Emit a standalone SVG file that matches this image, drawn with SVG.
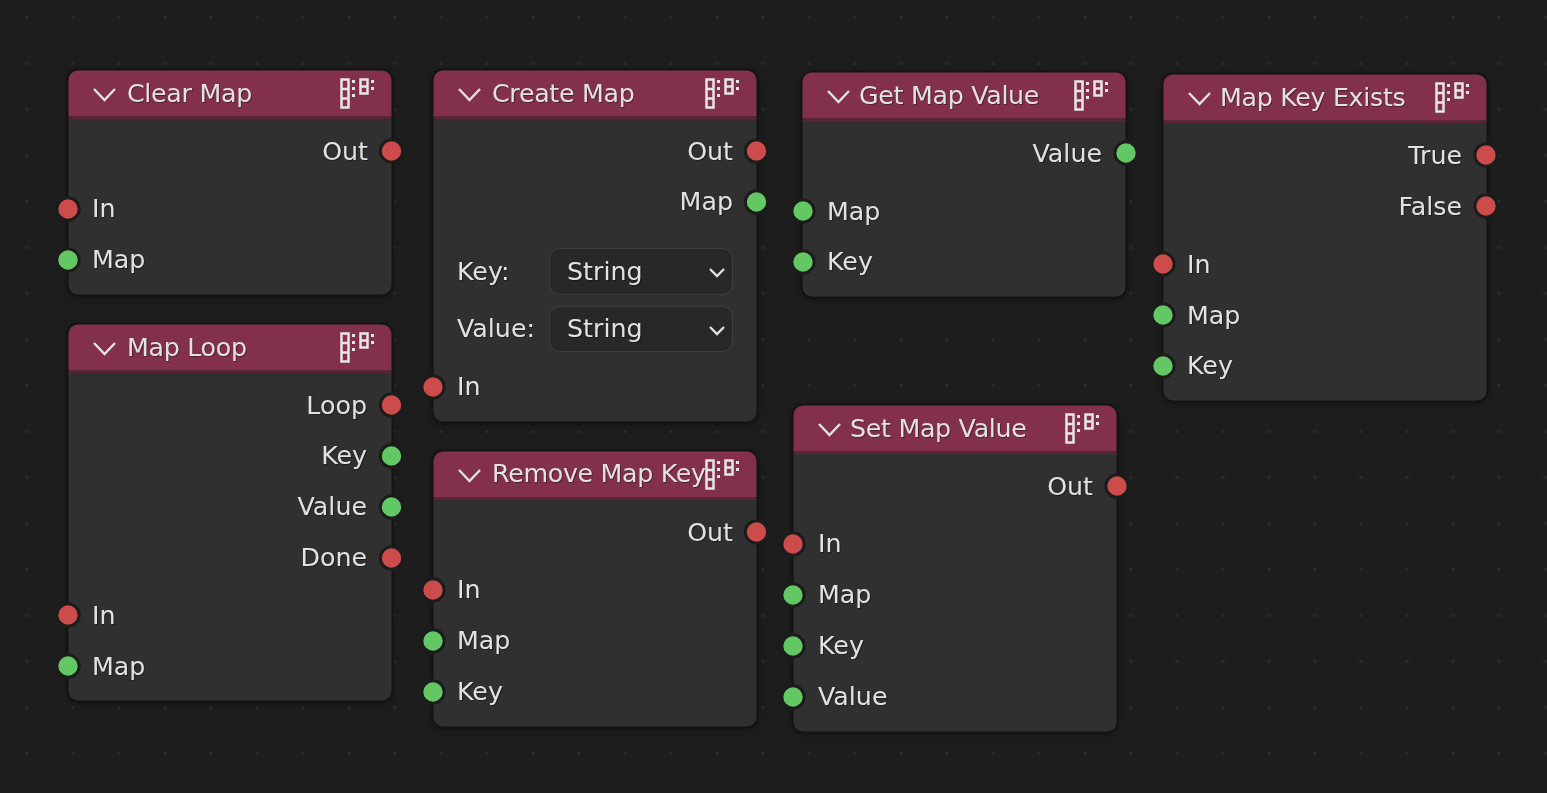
<svg xmlns="http://www.w3.org/2000/svg" width="1547" height="793" viewBox="0 0 1547 793">
<style>
text{font-family:"DejaVu Sans",sans-serif;font-size:25.300px;fill:#e2e2e2;filter:drop-shadow(1px 1px 0 rgba(0,0,0,.35))}
.t{letter-spacing:-.3px}
.e{text-anchor:end}
.body{fill:#303030}
.edge{fill:none;stroke:#141414;stroke-width:2}
.nd{filter:drop-shadow(0 2px 3px rgba(0,0,0,.45))}
.head{fill:#83314a}
.sep{fill:#5a2636}
.r{fill:#cc4b4b;stroke:#1c1c1c;stroke-width:3}
.g{fill:#63c763;stroke:#1c1c1c;stroke-width:3}
.chev{fill:none;stroke:#e2e2e2;stroke-width:2.400}
.ic{fill:none;stroke:#e6e6e6;stroke-width:2.500}
.icd{fill:#e6e6e6}
.dd{fill:#282828;stroke:#3c3c3c;stroke-width:1.200}
</style>
<defs>
<pattern id="grid" width="46" height="46" patternUnits="userSpaceOnUse" patternTransform="translate(3.500 -6)"><rect x="22" y="22" width="3" height="3" fill="#2a2a2a"/></pattern>
<g id="hdr"><path class="head" d="M0 46V10Q0 0 10 0H314Q324 0 324 10V46Z"/><rect class="sep" y="46" width="324" height="3"/><path class="chev" d="M26 19L36.500 30L47 19"/></g>
<g id="ico" transform="translate(272 8)"><rect class="ic" x="1.500" y="1.500" width="7" height="28"/><path class="ic" d="M1.500 11H8.500M1.500 20.500H8.500"/><rect class="ic" x="20.500" y="1.500" width="7" height="14"/><path class="ic" d="M20.500 8.500H27.500"/><rect class="icd" x="12" y="2" width="3" height="3"/><rect class="icd" x="12" y="9" width="3" height="3"/><rect class="icd" x="12" y="16" width="3" height="3"/><rect class="icd" x="31" y="2" width="3" height="3"/><rect class="icd" x="31" y="9" width="3" height="3"/></g>
</defs>
<rect width="1547" height="793" fill="#1d1d1d"/>
<rect width="1547" height="793" fill="url(#grid)"/>
<g id="connectors"/>
<g id="clear-map" transform="translate(68 70)"><rect class="body nd" width="324" height="225" rx="10"/><use href="#hdr"/><rect class="edge" x="-.5" y="-.5" width="325" height="226" rx="10.500"/><text class="t" x="59" y="32">Clear Map</text><use href="#ico"/>
<text class="e" x="300" y="90">Out</text><circle class="r" cx="323.500" cy="81" r="11.200"/>
<text x="24" y="147">In</text><circle class="r" cy="139" r="11.200"/>
<text x="24" y="198">Map</text><circle class="g" cy="190" r="11.200"/></g>
<g id="map-loop" transform="translate(68 324)"><rect class="body nd" width="324" height="377" rx="10"/><use href="#hdr"/><rect class="edge" x="-.5" y="-.5" width="325" height="378" rx="10.500"/><text class="t" x="59" y="32">Map Loop</text><use href="#ico"/>
<text class="e" x="299" y="90">Loop</text><circle class="r" cx="323.500" cy="81" r="11.200"/>
<text class="e" x="299" y="140">Key</text><circle class="g" cx="323.500" cy="132" r="11.200"/>
<text class="e" x="299" y="191">Value</text><circle class="g" cx="323.500" cy="183" r="11.200"/>
<text class="e" x="299" y="242">Done</text><circle class="r" cx="323.500" cy="234" r="11.200"/>
<text x="24" y="300">In</text><circle class="r" cy="291" r="11.200"/>
<text x="24" y="351">Map</text><circle class="g" cy="342" r="11.200"/></g>
<g id="create-map" transform="translate(433 70)"><rect class="body nd" width="324" height="352" rx="10"/><use href="#hdr"/><rect class="edge" x="-.5" y="-.5" width="325" height="353" rx="10.500"/><text class="t" x="59" y="32">Create Map</text><use href="#ico"/>
<text class="e" x="300" y="90">Out</text><circle class="r" cx="323.500" cy="81" r="11.200"/>
<text class="e" x="300" y="140">Map</text><circle class="g" cx="323.500" cy="132" r="11.200"/>
<text x="24" y="210">Key:</text><rect class="dd" x="116.500" y="178.500" width="183" height="46" rx="10"/><text x="134" y="210">String</text><path class="chev" d="M277 199L284 206L291 199"/>
<text x="24" y="267">Value:</text><rect class="dd" x="116.500" y="236.500" width="183" height="45" rx="10"/><text x="134" y="267">String</text><path class="chev" d="M277 257L284 264L291 257"/>
<text x="24" y="325">In</text><circle class="r" cy="317" r="11.200"/></g>
<g id="remove-map-key" transform="translate(433 451)"><rect class="body nd" width="324" height="276" rx="10"/><use href="#hdr"/><rect class="edge" x="-.5" y="-.5" width="325" height="277" rx="10.500"/><text class="t" x="59" y="31">Remove Map Key</text><use href="#ico"/>
<text class="e" x="300" y="90">Out</text><circle class="r" cx="323.500" cy="81" r="11.200"/>
<text x="24" y="147">In</text><circle class="r" cy="139" r="11.200"/>
<text x="24" y="198">Map</text><circle class="g" cy="190" r="11.200"/>
<text x="24" y="249">Key</text><circle class="g" cy="241" r="11.200"/></g>
<g id="get-map-value" transform="translate(802 72)"><rect class="body nd" width="324" height="225" rx="10"/><use href="#hdr"/><rect class="edge" x="-.5" y="-.5" width="325" height="226" rx="10.500"/><text class="t" x="57" y="32">Get Map Value</text><use href="#ico"/>
<text class="e" x="300" y="90">Value</text><circle class="g" cx="324" cy="81" r="11.200"/>
<text x="25" y="148">Map</text><circle class="g" cx="1" cy="139" r="11.200"/>
<text x="25" y="198">Key</text><circle class="g" cx="1" cy="190" r="11.200"/></g>
<g id="set-map-value" transform="translate(793 405)"><rect class="body nd" width="324" height="327" rx="10"/><use href="#hdr"/><rect class="edge" x="-.5" y="-.5" width="325" height="328" rx="10.500"/><text class="t" x="57" y="32">Set Map Value</text><use href="#ico"/>
<text class="e" x="300" y="90">Out</text><circle class="r" cx="324" cy="81" r="11.200"/>
<text x="25" y="147">In</text><circle class="r" cy="139" r="11.200"/>
<text x="25" y="198">Map</text><circle class="g" cy="190" r="11.200"/>
<text x="25" y="249">Key</text><circle class="g" cy="241" r="11.200"/>
<text x="25" y="300">Value</text><circle class="g" cy="292" r="11.200"/></g>
<g id="map-key-exists" transform="translate(1163 74)"><rect class="body nd" width="324" height="327" rx="10"/><use href="#hdr"/><rect class="edge" x="-.5" y="-.5" width="325" height="328" rx="10.500"/><text class="t" x="57" y="32">Map Key Exists</text><use href="#ico"/>
<text class="e" x="299" y="90">True</text><circle class="r" cx="323" cy="81" r="11.200"/>
<text class="e" x="299" y="141">False</text><circle class="r" cx="323" cy="132" r="11.200"/>
<text x="24" y="199">In</text><circle class="r" cy="190" r="11.200"/>
<text x="24" y="250">Map</text><circle class="g" cy="241" r="11.200"/>
<text x="24" y="300">Key</text><circle class="g" cy="292" r="11.200"/></g>
</svg>
